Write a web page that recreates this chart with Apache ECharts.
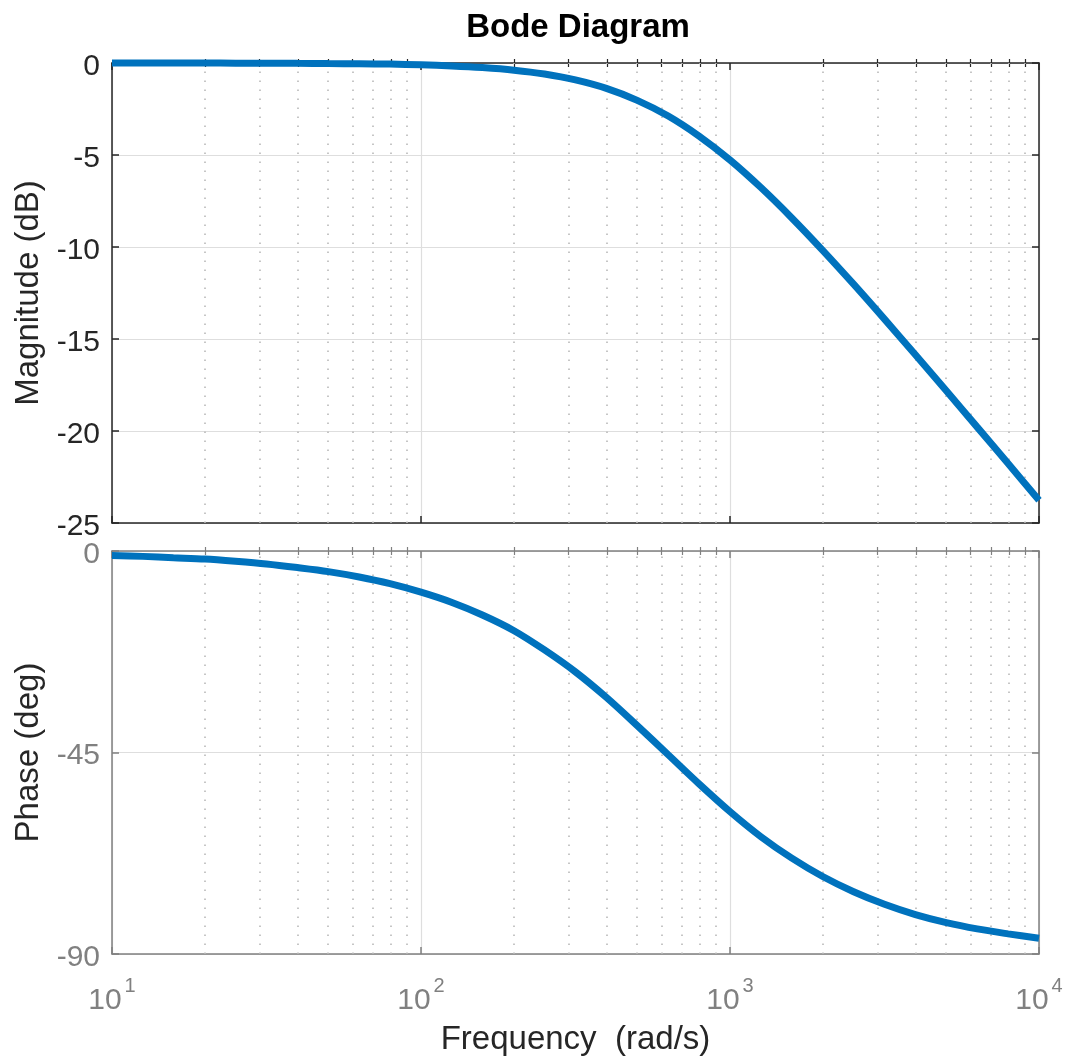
<!DOCTYPE html>
<html>
<head>
<meta charset="utf-8">
<script src="https://cdn.jsdelivr.net/npm/echarts@6/dist/echarts.min.js"></script>
<style>
html,body{margin:0;padding:0;background:#fff;}
#chart{width:1067px;height:1064px;}
</style>
</head>
<body>
<div id="chart"></div>
<script>
// Frequencies (rad/s) read along the log axis
const freq = [10, 12.6, 15.8, 20, 25.1, 31.6, 39.8, 50.1, 63.1, 79.4, 100, 126, 158, 200, 251, 316, 398, 501, 631, 794, 1000, 1259, 1585, 1995, 2512, 3162, 3981, 5012, 6310, 7943, 10000];
// Magnitude (dB)
const magnitude = [0, 0, 0, 0, -0.01, -0.01, -0.02, -0.03, -0.04, -0.06, -0.10, -0.16, -0.25, -0.39, -0.60, -0.92, -1.38, -2.03, -2.88, -3.97, -5.27, -6.77, -8.42, -10.18, -12.02, -13.92, -15.86, -17.81, -19.79, -21.77, -23.76];
// Phase (deg)
const phase = [-1.0, -1.2, -1.5, -1.8, -2.3, -2.9, -3.7, -4.6, -5.8, -7.3, -9.2, -11.5, -14.3, -17.8, -22.1, -27.0, -32.7, -39.0, -45.5, -52.0, -58.2, -63.8, -68.6, -72.7, -76.1, -78.9, -81.2, -83.0, -84.4, -85.5, -86.5];
// Axis ticks
const majorX = [10, 100, 1000, 10000];
const minorX = [20, 30, 40, 50, 60, 70, 80, 90, 200, 300, 400, 500, 600, 700, 800, 900, 2000, 3000, 4000, 5000, 6000, 7000, 8000, 9000];
const magTicks = [-25, -20, -15, -10, -5, 0];
const phaseTicks = [-90, -45, 0];

const FONT = 'Liberation Sans, Arial, Helvetica, sans-serif';
const DARK = '#262626';
const GRAY = '#808080';
const BLUE = '#0072BD';
const GRID_C = '#dedede';
const MINOR_C = '#b8b8b8';

const grids = [
  {left: 112, top: 63, width: 927, height: 460},
  {left: 112, top: 551, width: 927, height: 403}
];
const axColor = [DARK, GRAY];

function xAxisPair(gi) {
  const c = axColor[gi];
  const common = {
    gridIndex: gi, type: 'log', logBase: 10, min: 10, max: 10000,
    axisLine: {show: true, onZero: false, lineStyle: {color: c, width: 1.5}},
    splitArea: {show: false}
  };
  return [
    Object.assign({}, common, {
      position: 'bottom',
      axisTick: {show: true, inside: true, length: 7, customValues: majorX, lineStyle: {color: c, width: 1.5}},
      axisLabel: gi === 1 ? {
        show: true, customValues: majorX, margin: 22,
        formatter: function (v) {
          const e = Math.round(Math.log10(v));
          return '{b|10}{s|' + e + '}';
        },
        rich: {
          b: {fontSize: 30, fontFamily: FONT, color: GRAY, lineHeight: 40, verticalAlign: 'bottom'},
          s: {fontSize: 20, fontFamily: FONT, color: GRAY, lineHeight: 40, verticalAlign: 'top', padding: [0, 0, 0, 3]}
        }
      } : {show: false},
      splitLine: {show: true, lineStyle: {color: GRID_C, width: 1.2, type: 'solid'}},
      name: gi === 1 ? 'Frequency  (rad/s)' : '',
      nameLocation: 'middle', nameGap: 69,
      nameTextStyle: {fontSize: 33, fontFamily: FONT, color: DARK}
    }),
    Object.assign({}, common, {
      position: 'top',
      axisTick: {show: true, inside: true, length: 7, customValues: majorX, lineStyle: {color: c, width: 1.5}},
      axisLabel: {show: false},
      splitLine: {show: false}
    }),
    // minor ticks bottom
    Object.assign({}, common, {
      position: 'bottom',
      axisLine: {show: false},
      axisTick: {show: true, inside: true, length: 4, customValues: minorX, lineStyle: {color: c, width: 1.2}},
      axisLabel: {show: false},
      splitLine: {show: false}
    }),
    // minor ticks top
    Object.assign({}, common, {
      position: 'top',
      axisLine: {show: false},
      axisTick: {show: true, inside: true, length: 4, customValues: minorX, lineStyle: {color: c, width: 1.2}},
      axisLabel: {show: false},
      splitLine: {show: false}
    })
  ];
}

function yAxisPair(gi) {
  const c = axColor[gi];
  const ticks = gi === 0 ? magTicks : phaseTicks;
  const common = {
    gridIndex: gi, type: 'value',
    min: ticks[0], max: ticks[ticks.length - 1], interval: ticks[1] - ticks[0],
    axisLine: {show: true, onZero: false, lineStyle: {color: c, width: 1.5}},
    axisTick: {show: true, inside: true, length: 7, lineStyle: {color: c, width: 1.5}}
  };
  return [
    Object.assign({}, common, {
      position: 'left',
      axisLabel: {show: true, color: c, fontSize: 30, fontFamily: FONT, margin: 12, verticalAlign: 'top', lineHeight: 7},
      splitLine: {show: true, lineStyle: {color: GRID_C, width: 1.2}},
      name: gi === 0 ? 'Magnitude (dB)' : 'Phase (deg)',
      nameLocation: 'middle', nameGap: 64, nameRotate: 90,
      nameTextStyle: {fontSize: 33, fontFamily: FONT, color: DARK}
    }),
    Object.assign({}, common, {
      position: 'right',
      axisLabel: {show: false},
      splitLine: {show: false}
    })
  ];
}

const xAxes = xAxisPair(0).concat(xAxisPair(1));
const yAxes = yAxisPair(0).concat(yAxisPair(1));

function minorGridSeries(xi, yi) {
  return {
    type: 'line', xAxisIndex: xi, yAxisIndex: yi, data: [], silent: true, z: 1,
    markLine: {
      silent: true, symbol: 'none', label: {show: false},
      lineStyle: {color: MINOR_C, width: 1.6, type: [1.6, 7.4]},
      emphasis: {disabled: true},
      animation: false,
      data: minorX.map(function (f) { return {xAxis: f}; })
    }
  };
}

const option = {
  animation: false,
  backgroundColor: '#ffffff',
  title: {
    text: 'Bode Diagram', left: 573, top: 6, textAlign: 'center',
    textStyle: {fontSize: 33, fontWeight: 'bold', fontFamily: FONT, color: '#000'}
  },
  grid: grids.map(function (g) { return Object.assign({containLabel: false, show: false}, g); }),
  xAxis: xAxes,
  yAxis: yAxes,
  series: [
    minorGridSeries(0, 0),
    minorGridSeries(4, 2),
    {
      type: 'line', name: 'Magnitude', xAxisIndex: 0, yAxisIndex: 0, z: 5,
      data: freq.map(function (f, i) { return [f, magnitude[i]]; }),
      showSymbol: false, symbol: 'none', smooth: 0.3, clip: false,
      lineStyle: {color: BLUE, width: 7}
    },
    {
      type: 'line', name: 'Phase', xAxisIndex: 4, yAxisIndex: 2, z: 5,
      data: freq.map(function (f, i) { return [f, phase[i]]; }),
      showSymbol: false, symbol: 'none', smooth: 0.3, clip: false,
      lineStyle: {color: BLUE, width: 7}
    }
  ]
};

const chart = echarts.init(document.getElementById('chart'), null, {renderer: 'canvas'});
chart.setOption(option);
</script>
</body>
</html>
